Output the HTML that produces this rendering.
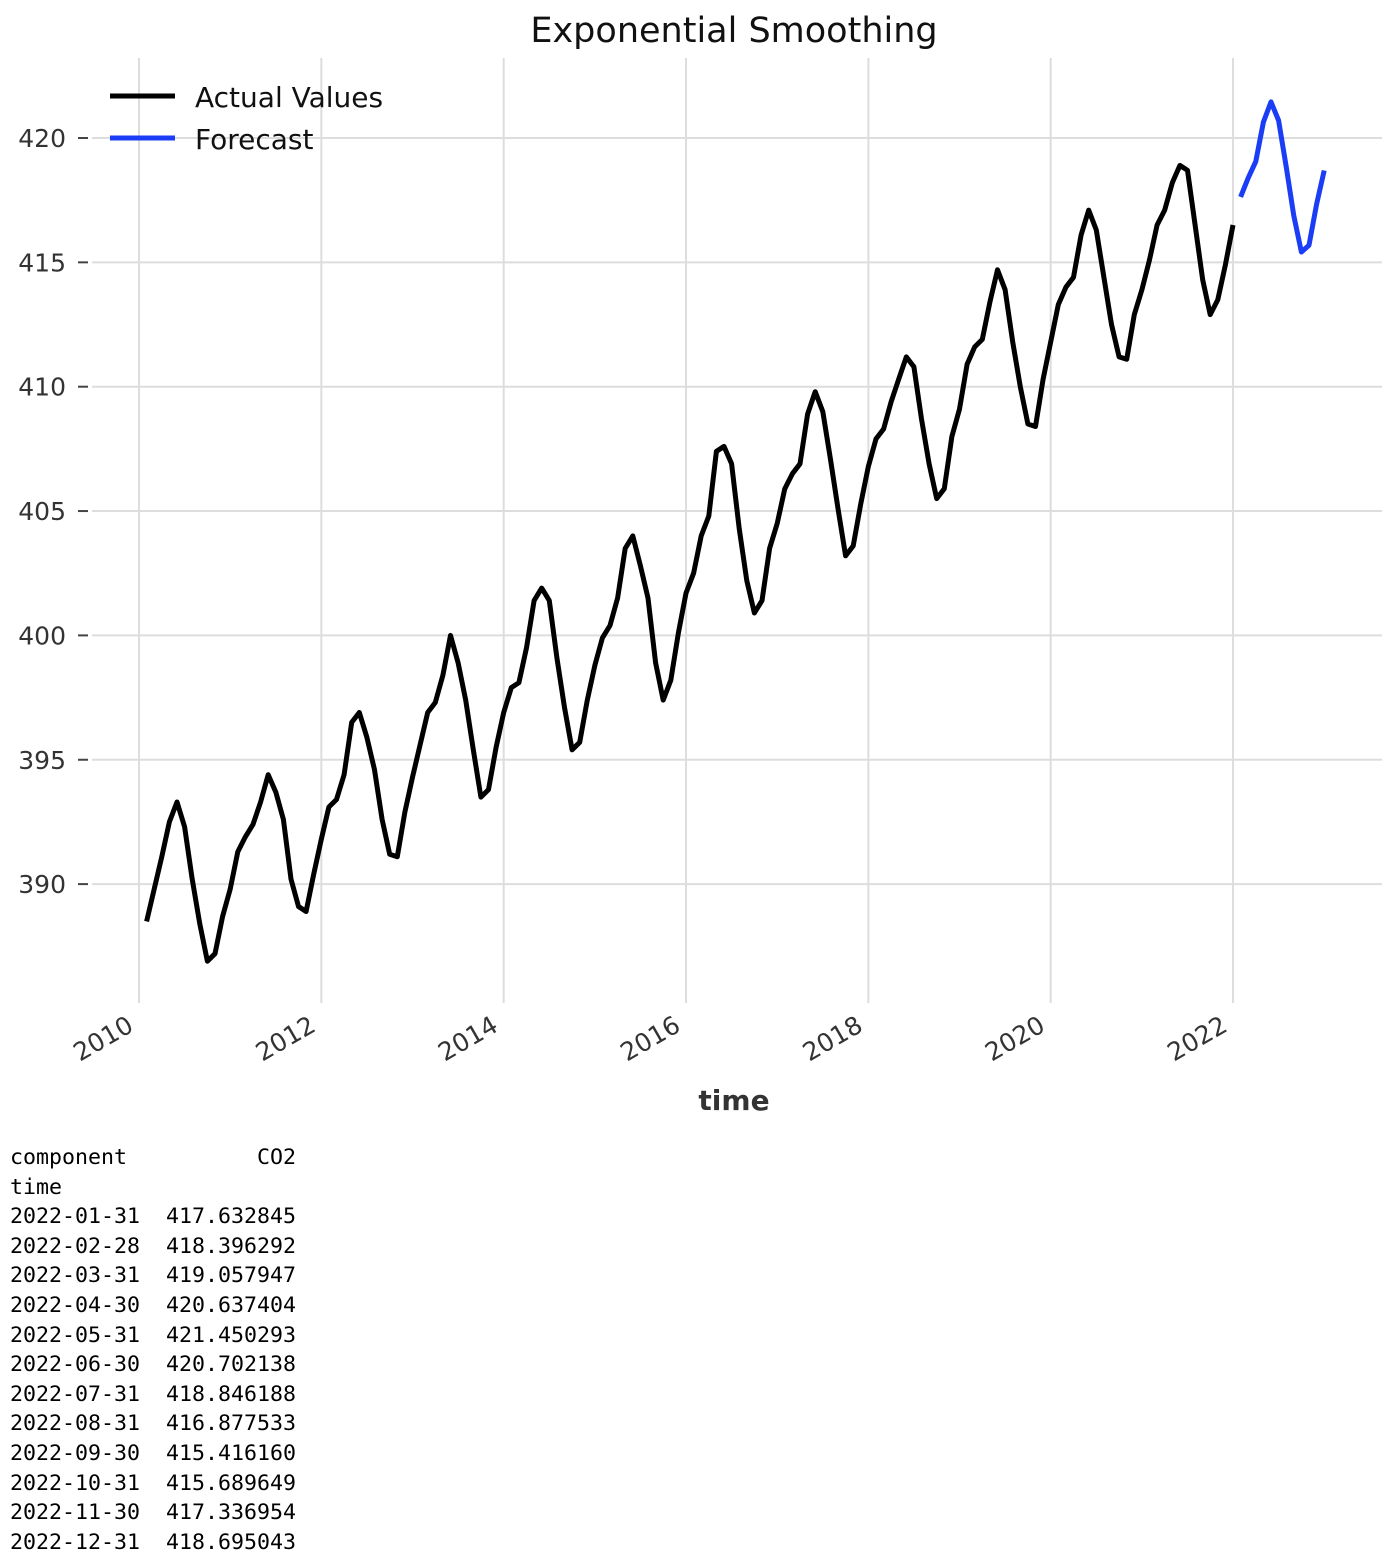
<!DOCTYPE html>
<html><head><meta charset="utf-8">
<style>
body{margin:0;background:#fff;width:1400px;height:1560px;overflow:hidden;font-family:"DejaVu Sans","Liberation Sans",sans-serif}
pre{position:absolute;left:10px;top:1143px;margin:0;font-family:"DejaVu Sans Mono","Liberation Mono",monospace;font-size:21.6px;line-height:29.6px;color:#000}
</style></head><body>
<svg id="chart" width="1400" height="1130" style="position:absolute;left:0;top:0">
<text x="734" y="42" text-anchor="middle" font-size="35" fill="#111">Exponential Smoothing</text>
<g id="grid"></g><g id="series"></g>
<text x="734" y="1110" text-anchor="middle" font-size="28" font-weight="bold" fill="#333">time</text>
<g>
<line x1="110" y1="96" x2="175" y2="96" stroke="#000" stroke-width="5"/>
<text x="195" y="107" font-size="28" fill="#111">Actual Values</text>
<line x1="110" y1="138" x2="175" y2="138" stroke="#1a3df5" stroke-width="5"/>
<text x="195" y="149" font-size="28" fill="#111">Forecast</text>
</g>
</svg>
<pre>component          CO2
time
2022-01-31  417.632845
2022-02-28  418.396292
2022-03-31  419.057947
2022-04-30  420.637404
2022-05-31  421.450293
2022-06-30  420.702138
2022-07-31  418.846188
2022-08-31  416.877533
2022-09-30  415.416160
2022-10-31  415.689649
2022-11-30  417.336954
2022-12-31  418.695043</pre>
<script>
const actualStartYear = 2010;
const actualValues = [
388.5,389.8,391.1,392.5,393.3,392.3,390.2,388.4,386.9,387.2,388.7,389.8,
391.3,391.9,392.4,393.3,394.4,393.7,392.6,390.2,389.1,388.9,390.4,391.8,
393.1,393.4,394.4,396.5,396.9,395.9,394.6,392.6,391.2,391.1,392.9,394.3,
395.6,396.9,397.3,398.4,400.0,398.9,397.4,395.4,393.5,393.8,395.5,396.9,
397.9,398.1,399.5,401.4,401.9,401.4,399.1,397.1,395.4,395.7,397.4,398.8,
399.9,400.4,401.5,403.5,404.0,402.8,401.5,398.9,397.4,398.2,400.1,401.7,
402.5,404.0,404.8,407.4,407.6,406.9,404.3,402.2,400.9,401.4,403.5,404.5,
405.9,406.5,406.9,408.9,409.8,409.0,407.1,405.1,403.2,403.6,405.3,406.8,
407.9,408.3,409.4,410.3,411.2,410.8,408.7,406.9,405.5,405.9,408.0,409.1,
410.9,411.6,411.9,413.4,414.7,413.9,411.8,410.0,408.5,408.4,410.3,411.8,
413.3,414.0,414.4,416.1,417.1,416.3,414.4,412.5,411.2,411.1,412.9,413.9,
415.1,416.5,417.1,418.2,418.9,418.7,416.5,414.3,412.9,413.5,414.9,416.5];
const forecastStartYear = 2022;
const forecastValues = [417.632845,418.396292,419.057947,420.637404,421.450293,420.702138,418.846188,416.877533,415.416160,415.689649,417.336954,418.695043];
const xTickLabels = ["2010","2012","2014","2016","2018","2020","2022"];
const yTickLabels = [390,395,400,405,410,415,420];

const NS="http://www.w3.org/2000/svg";
function xs(t){return 139+(t-2010)*91.17;}
function ys(v){return 138+(420-v)*24.87;}
const grid=document.getElementById('grid'), ser=document.getElementById('series');
function mk(tag,attrs,parent){const e=document.createElementNS(NS,tag);for(const k in attrs)e.setAttribute(k,attrs[k]);parent.appendChild(e);return e;}
yTickLabels.forEach(v=>{
  const y=ys(v);
  const l=mk('line',{x1:92,x2:1382,y1:y,y2:y,stroke:'#ddd','stroke-width':2},grid);
  
  
  mk('line',{x1:78,x2:88,y1:y,y2:y,stroke:'#444','stroke-width':2},grid);
  const t=mk('text',{x:66,y:y+9,'text-anchor':'end','font-size':25,fill:'#333'},grid);
  t.textContent=v;
  
  
});
xTickLabels.forEach(s=>{
  const x=xs(+s);
  const l=mk('line',{x1:x,x2:x,y1:58,y2:1003,stroke:'#ddd','stroke-width':2},grid);
  
  
  const t=mk('text',{x:x-4,y:1030,'text-anchor':'end','font-size':25,fill:'#333',transform:`rotate(-30 ${x-4} 1030)`},grid);
  t.textContent=s;
  
  
});
function path(vals,start,color,name){
  const d=vals.map((v,i)=>(i?'L':'M')+xs(start+(i+1)/12).toFixed(1)+','+ys(v).toFixed(1)).join('');
  const p=mk('path',{d:d,fill:'none',stroke:color,'stroke-width':5,'stroke-linejoin':'round'},ser);
  
  
}
path(actualValues,actualStartYear,'#000','actual-values-line');
path(forecastValues,forecastStartYear,'#1a3df5','forecast-line');
</script>
</body></html>
